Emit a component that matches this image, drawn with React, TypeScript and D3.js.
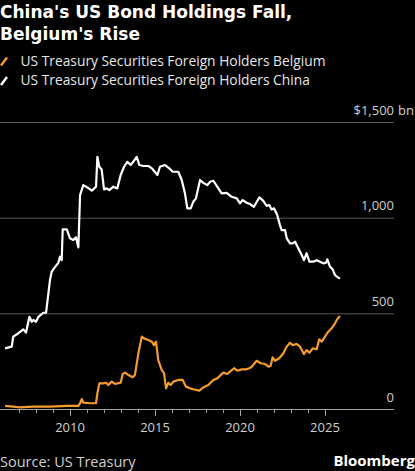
import React, { useEffect, useRef } from "react";
import { select, scaleLinear, line, range } from "d3";

// decimal years, values in $bn
const chinaDates = [
  2006.18, 2006.57, 2006.66, 2006.96, 2007.25, 2007.41, 2007.61, 2007.75, 2007.84, 2008.0,
  2008.14, 2008.43, 2008.59, 2008.82, 2008.92, 2009.12, 2009.31, 2009.41, 2009.51, 2009.57,
  2009.81, 2010.0, 2010.19, 2010.35, 2010.49, 2010.59, 2010.78, 2011.02, 2011.28, 2011.53,
  2011.61, 2011.72, 2011.86, 2012.0, 2012.16, 2012.31, 2012.55, 2012.78, 2012.98, 2013.18,
  2013.37, 2013.57, 2013.72, 2013.92, 2014.08, 2014.31, 2014.61, 2014.81, 2015.14, 2015.29,
  2015.59, 2015.84, 2016.04, 2016.37, 2016.57, 2016.76, 2016.9, 2017.1, 2017.25, 2017.41,
  2017.65, 2017.84, 2018.08, 2018.24, 2018.43, 2018.66, 2018.92, 2019.22, 2019.51, 2019.81,
  2020.0, 2020.16, 2020.39, 2020.59, 2020.82, 2021.14, 2021.37, 2021.57, 2021.72, 2021.86,
  2022.0, 2022.19, 2022.35, 2022.45, 2022.65, 2022.75, 2022.94, 2023.1, 2023.24, 2023.43,
  2023.63, 2023.76, 2023.92, 2024.08, 2024.31, 2024.51, 2024.71, 2024.9, 2025.06, 2025.14,
  2025.29, 2025.45, 2025.59, 2025.72, 2025.88,
];
const chinaValues = [
  317, 326, 378, 396, 416, 399, 482, 456, 465, 456,
  482, 503, 503, 674, 717, 743, 764, 796, 778, 939,
  939, 892, 883, 897, 845, 1118, 1170, 1158, 1141, 1162,
  1318, 1266, 1252, 1148, 1153, 1144, 1162, 1153, 1223, 1266,
  1292, 1275, 1292, 1318, 1275, 1270, 1270, 1258, 1223, 1266,
  1275, 1258, 1240, 1240, 1197, 1127, 1049, 1049, 1083, 1101,
  1197, 1182, 1170, 1188, 1193, 1162, 1127, 1130, 1109, 1101,
  1075, 1092, 1078, 1071, 1057, 1106, 1088, 1061, 1066, 1043,
  1049, 1014, 961, 935, 935, 892, 866, 866, 874, 840,
  805, 778, 814, 770, 770, 778, 770, 761, 765, 782,
  744, 730, 700, 691, 681,
];

const belgiumDates = [
  2006.18, 2006.66, 2007.0, 2007.84, 2008.82, 2009.8, 2010.49, 2010.59, 2010.69, 2010.78,
  2011.18, 2011.53, 2011.61, 2011.72, 2011.96, 2012.12, 2012.25, 2012.45, 2012.65, 2012.98,
  2013.1, 2013.24, 2013.43, 2013.69, 2013.82, 2014.02, 2014.22, 2014.35, 2014.61, 2014.81,
  2014.94, 2015.06, 2015.19, 2015.39, 2015.53, 2015.65, 2015.78, 2015.92, 2016.08, 2016.37,
  2016.63, 2016.82, 2017.06, 2017.25, 2017.61, 2017.84, 2018.14, 2018.43, 2018.66, 2019.02,
  2019.25, 2019.41, 2019.65, 2019.84, 2020.1, 2020.35, 2020.55, 2020.69, 2020.98, 2021.22,
  2021.47, 2021.67, 2021.8, 2021.92, 2022.06, 2022.31, 2022.55, 2022.75, 2022.94, 2023.1,
  2023.33, 2023.53, 2023.76, 2023.92, 2024.08, 2024.28, 2024.51, 2024.66, 2024.81, 2025.0,
  2025.19, 2025.39, 2025.59, 2025.72, 2025.88,
];
const belgiumValues = [
  16, 12, 9, 12, 12, 16, 16, 30, 52, 33,
  30, 30, 82, 134, 134, 137, 125, 143, 131, 137,
  183, 190, 178, 166, 178, 291, 378, 369, 361, 352,
  334, 352, 256, 204, 187, 108, 137, 125, 143, 152,
  152, 117, 108, 103, 96, 113, 125, 152, 160, 190,
  183, 195, 213, 200, 207, 207, 213, 221, 252, 239,
  235, 221, 225, 270, 252, 265, 291, 326, 346, 334,
  340, 326, 287, 308, 294, 317, 312, 364, 352, 378,
  404, 422, 448, 469, 486,
];

const yTicks = [0, 500, 1000, 1500];
const yTickLabels = ["0", "500", "1,000", "$1,500"];
const xLabelYears = [2010, 2015, 2020, 2025];
const tickYears = range(2007, 2026);

const titleLines = ["China's US Bond Holdings Fall,", "Belgium's Rise"];
const legendItems = [
  { name: "US Treasury Securities Foreign Holders Belgium", color: "#f39c2c" },
  { name: "US Treasury Securities Foreign Holders China", color: "#ffffff" },
];

const W = 415;
const H = 471;
const FONT = "'Open Sans', 'Liberation Sans', sans-serif";
const TITLE_FONT = "'DejaVu Sans', 'Open Sans', sans-serif";

function BondChart() {
  const svgRef = useRef<SVGSVGElement>(null);

  useEffect(() => {
    select(svgRef.current).selectAll("*").remove();
    const svg = select(svgRef.current);

    svg.append("rect").attr("width", W).attr("height", H).attr("fill", "#000");

    const x = scaleLinear().domain([2005.88, 2029.06]).range([0, 394]);
    const y = scaleLinear().domain([0, 1500]).range([409, 122]);

    // title
    svg
      .selectAll("text.title")
      .data(titleLines)
      .enter()
      .append("text")
      .attr("x", 0)
      .attr("y", (_, i) => 18 + i * 21.5)
      .attr("fill", "#fff")
      .style("font-family", TITLE_FONT)
      .style("font-weight", "bold")
      .style("font-size", "17px")
      .text((d) => d);

    // legend
    const leg = svg
      .selectAll("g.legend")
      .data(legendItems)
      .enter()
      .append("g")
      .attr("transform", (_, i) => `translate(0,${65.5 + i * 19.5})`);
    leg
      .append("line")
      .attr("x1", 1)
      .attr("y1", 0)
      .attr("x2", 7)
      .attr("y2", -8)
      .attr("stroke", (d) => d.color)
      .attr("stroke-width", 2.5);
    leg
      .append("text")
      .attr("x", 20.5)
      .attr("y", 0)
      .attr("fill", "#e6e6e6")
      .style("font-family", FONT)
      .style("font-size", "13.8px")
      .text((d) => d.name);

    // gridlines
    svg
      .selectAll("line.grid")
      .data(yTicks)
      .enter()
      .append("line")
      .attr("x1", 0)
      .attr("x2", 394)
      .attr("y1", (d) => y(d) + 0.5)
      .attr("y2", (d) => y(d) + 0.5)
      .attr("stroke", (d) => (d === 0 ? "#a0a0a0" : "#555"))
      .attr("stroke-width", 1);

    svg
      .selectAll("text.ylab")
      .data(yTicks)
      .enter()
      .append("text")
      .attr("x", 394)
      .attr("y", (d) => y(d) - 7.5)
      .attr("text-anchor", "end")
      .attr("fill", "#d0d0d0")
      .style("font-family", FONT)
      .style("font-size", "13px")
      .text((_, i) => yTickLabels[i]);
    svg
      .append("text")
      .attr("x", 398)
      .attr("y", y(1500) - 7.5)
      .attr("fill", "#d0d0d0")
      .style("font-family", FONT)
      .style("font-size", "13px")
      .text("bn");

    // x ticks
    svg
      .selectAll("line.xtick")
      .data(tickYears)
      .enter()
      .append("line")
      .attr("x1", (d) => Math.round(x(d)) + 0.5)
      .attr("x2", (d) => Math.round(x(d)) + 0.5)
      .attr("y1", 409)
      .attr("y2", (d) => (xLabelYears.includes(d) ? 416 : 413))
      .attr("stroke", "#a0a0a0")
      .attr("stroke-width", 1);
    svg
      .selectAll("text.xlab")
      .data(xLabelYears)
      .enter()
      .append("text")
      .attr("x", (d) => x(d))
      .attr("y", 431.5)
      .attr("text-anchor", "middle")
      .attr("fill", "#d0d0d0")
      .style("font-family", FONT)
      .style("font-size", "13px")
      .text((d) => String(d));

    // series
    const path = line<[number, number]>()
      .x((d) => x(d[0]))
      .y((d) => y(d[1]));
    const china = chinaDates.map((d, i) => [d, chinaValues[i]] as [number, number]);
    const belgium = belgiumDates.map((d, i) => [d, belgiumValues[i]] as [number, number]);

    svg
      .append("path")
      .datum(china)
      .attr("fill", "none")
      .attr("stroke", legendItems[1].color)
      .attr("stroke-width", 2.2)
      .attr("stroke-linejoin", "round")
      .attr("d", path);
    svg
      .append("path")
      .datum(belgium)
      .attr("fill", "none")
      .attr("stroke", legendItems[0].color)
      .attr("stroke-width", 2.2)
      .attr("stroke-linejoin", "round")
      .attr("d", path);

    // footer
    svg
      .append("text")
      .attr("x", 0)
      .attr("y", 467)
      .attr("fill", "#d0d0d0")
      .style("font-family", FONT)
      .style("font-size", "14.5px")
      .text("Source: US Treasury");
    svg
      .append("text")
      .attr("x", 415)
      .attr("y", 466)
      .attr("text-anchor", "end")
      .attr("fill", "#fff")
      .style("font-family", FONT)
      .style("font-weight", "bold")
      .style("font-size", "15px")
      .text("Bloomberg");
  }, []);

  return <svg width={W} height={H} ref={svgRef} style={{ display: "block" }}></svg>;
}

export default function App() {
  useEffect(() => {
    document.body.style.margin = "0";
    document.body.style.background = "#000";
  }, []);
  return <BondChart />;
}
